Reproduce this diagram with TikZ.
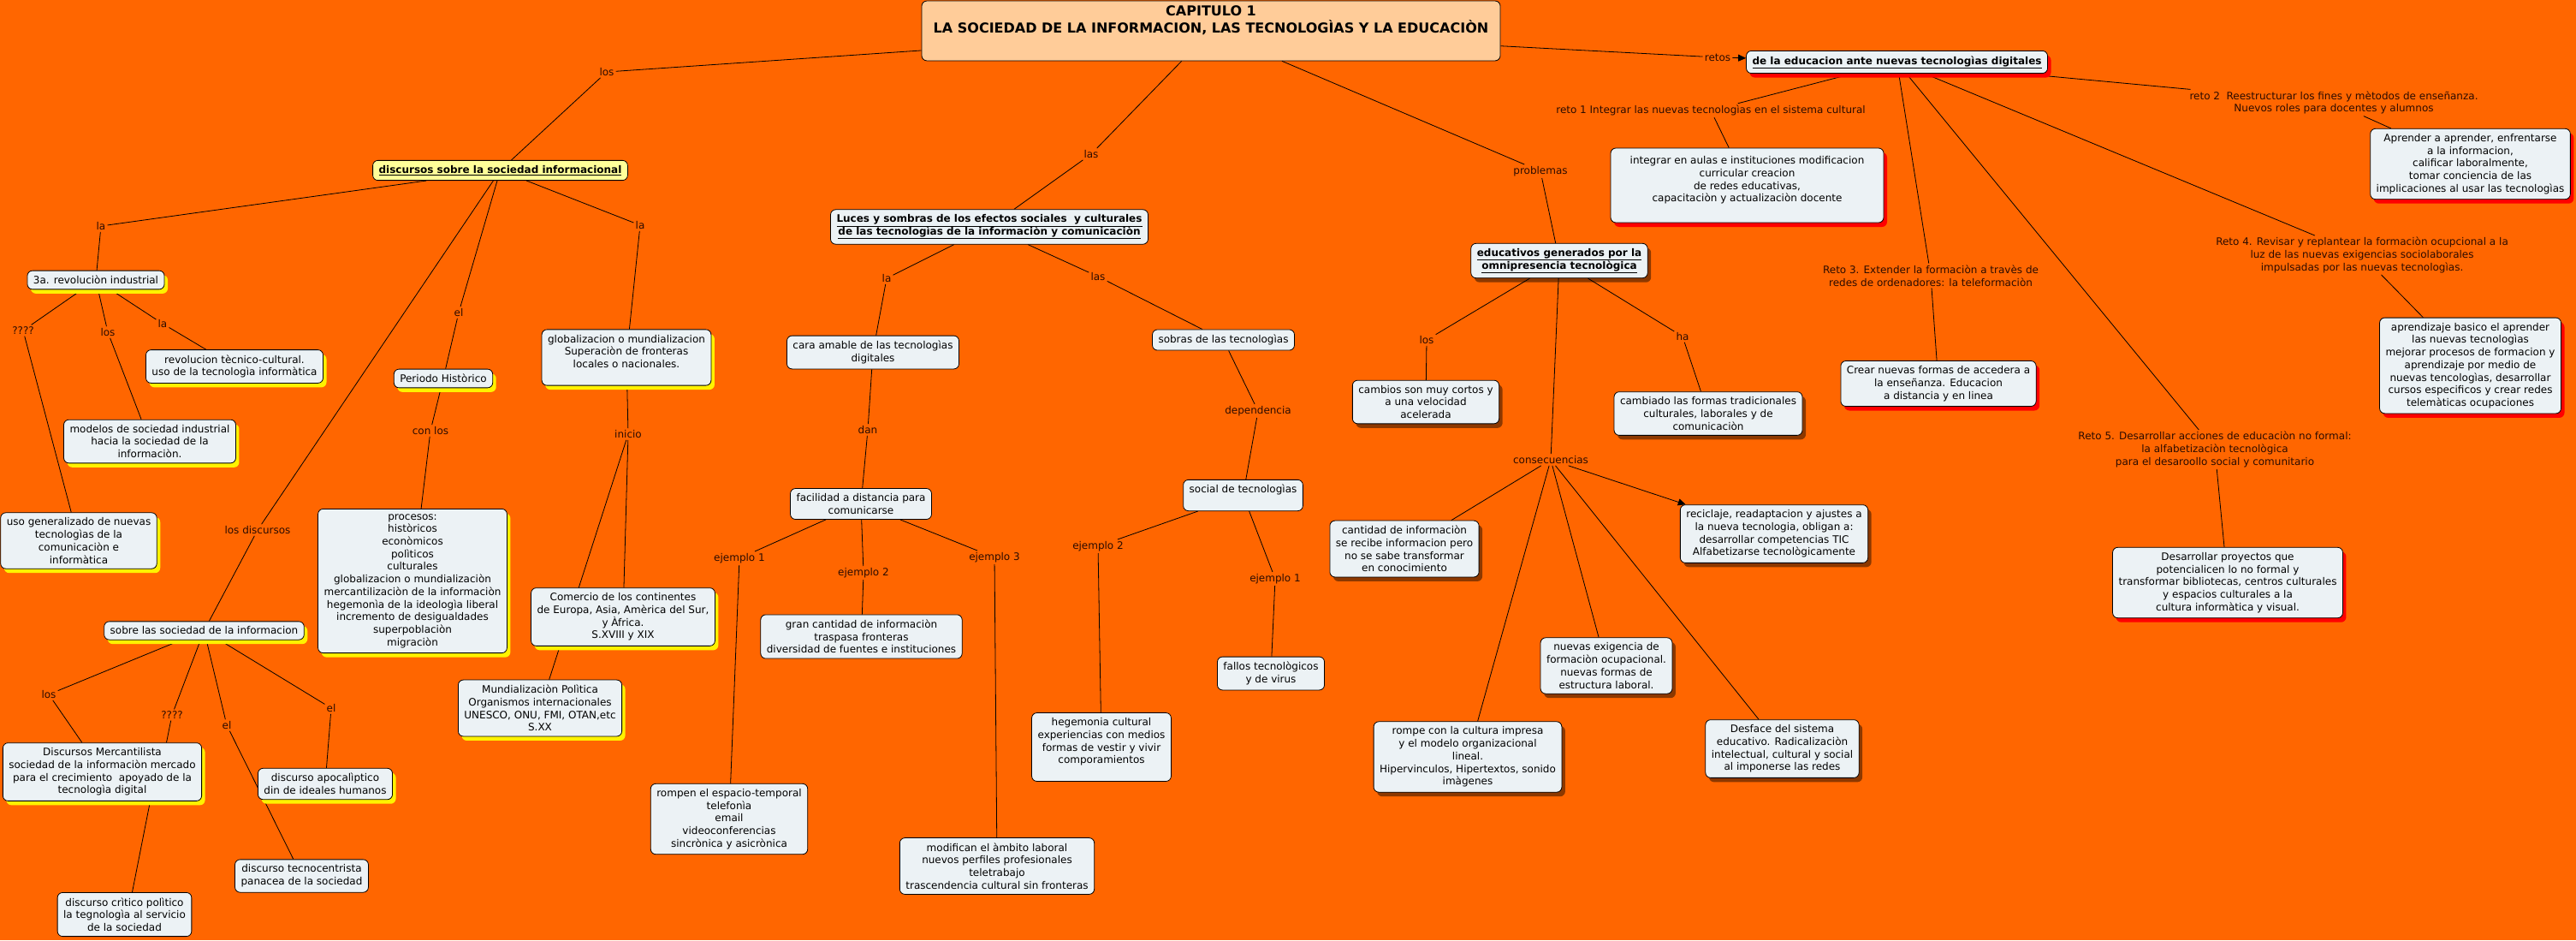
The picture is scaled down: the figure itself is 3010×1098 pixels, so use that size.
\documentclass[tikz,border=0pt]{standalone}
\usepackage{fontspec}
\setmainfont{DejaVu Sans}
\usetikzlibrary{arrows.meta, shadows, backgrounds}
\definecolor{bgorange}{HTML}{FF6600}
\definecolor{conceptfill}{HTML}{ECF2F5}
\definecolor{titlefill}{HTML}{FFCC99}
\definecolor{headfill}{HTML}{FFFF99}
\definecolor{lblcol}{HTML}{2B0B00}

\begin{document}
\begin{tikzpicture}[x=1pt, y=-1pt,
  font=\fontsize{12}{14.7}\selectfont,
  concept/.style={draw, line width=0.8pt, fill=conceptfill, rounded corners=6pt,
    align=center, inner xsep=7pt, inner ysep=6pt},
  heading/.style={font=\fontsize{12}{14.7}\selectfont\bfseries},
  yshad/.style={concept, drop shadow={shadow xshift=4pt, shadow yshift=-5pt, fill=yellow, opacity=1}},
  rshad/.style={concept, drop shadow={shadow xshift=4pt, shadow yshift=-5pt, fill=red, opacity=1}},
  dshad/.style={concept, drop shadow={shadow xshift=4pt, shadow yshift=-5pt, fill=black, opacity=0.45}},
  lbl/.style={text=lblcol, align=center, inner sep=2pt},
  conn/.style={line width=0.8pt},
  arr/.style={conn, -{Triangle[length=9pt, width=8pt]}},
]
\useasboundingbox (0,0) rectangle (3010,1098);

%% Titulo
\node[concept, fill=titlefill, font=\fontsize{16}{20}\selectfont\bfseries, minimum width=676pt]
  (titulo) at (1415, 36)
  {CAPITULO 1\\LA SOCIEDAD DE LA INFORMACION, LAS TECNOLOGÌAS Y LA EDUCACIÒN\\ \strut};

%% Discursos (izquierda)
\node[concept, heading, fill=headfill] (discursos) at (584.5, 199)
  {\underline{discursos sobre la sociedad informacional}};
\node[yshad] (revInd) at (112, 327) {3a. revoluciòn industrial};
\node[yshad] (revTec) at (274, 428) {revolucion tècnico-cultural.\\uso de la tecnologìa informàtica};
\node[yshad] (modInd) at (175, 515.5) {modelos de sociedad industrial\\hacia la sociedad de la\\informaciòn.};
\node[yshad] (usoGen) at (92, 631.5) {uso generalizado de nuevas\\tecnologìas de la\\comunicaciòn e\\informàtica};
\node[yshad] (perHist) at (518, 442) {Periodo Històrico};
\node[yshad] (procesos) at (482, 678.5)
  {procesos:\\històricos\\econòmicos\\polìticos\\culturales\\globalizacion o mundializaciòn\\mercantilizaciòn de la informaciòn\\hegemonìa de la ideologìa liberal\\incremento de desigualdades\\superpoblaciòn\\migraciòn};
\node[yshad] (globMund) at (732, 417.5) {globalizacion o mundializacion\\Superaciòn de fronteras\\locales o nacionales.\\ \mbox{}};
\node[yshad] (comercio) at (728, 720.5) {Comercio de los continentes\\de Europa, Asia, Amèrica del Sur,\\y Àfrica.\\S.XVIII y XIX};
\node[yshad] (mundPol) at (631, 827) {Mundializaciòn Polìtica\\Organismos internacionales\\UNESCO, ONU, FMI, OTAN,etc\\S.XX};
\node[yshad] (sobreSoc) at (238.5, 736.5) {sobre las sociedad de la informacion};
\node[yshad] (discMerc) at (119.5, 901.5) {Discursos Mercantilista\\sociedad de la informaciòn mercado\\para el crecimiento~ apoyado de la\\tecnologìa digital};
\node[concept] (discCrit) at (145.5, 1068) {discurso crìtico polìtico\\la tegnologìa al servicio\\de la sociedad};
\node[yshad] (discApoc) at (380, 915.5) {discurso apocalìptico\\din de ideales humanos};
\node[concept] (discTecno) at (352.5, 1023) {discurso tecnocentrista\\panacea de la sociedad};

\node[lbl] (lLos1) at (709, 84) {los};
\node[lbl] (lLa1) at (118, 264) {la};
\node[lbl] (lEl1) at (536, 365) {el};
\node[lbl] (lLa2) at (748, 263) {la};
\node[lbl] (lDisc) at (301, 619) {los discursos};
\node[lbl] (lQ1) at (27, 386) {????};
\node[lbl] (lLos2) at (126, 388) {los};
\node[lbl] (lLa3) at (190, 378) {la};
\node[lbl] (lCon) at (503, 503) {con los};
\node[lbl] (lIni) at (734, 507) {inicio};
\node[lbl] (lLos3) at (57, 811) {los};
\node[lbl] (lQ2) at (201, 835) {????};
\node[lbl] (lEl2) at (265, 847) {el};
\node[lbl] (lEl3) at (387, 827) {el};

%% Luces y sombras (centro)
\node[concept, heading] (luces) at (1156, 265)
  {\underline{Luces y sombras de los efectos sociales~ y culturales}\\\underline{de las tecnologìas de la informaciòn y comunicaciòn}};
\node[concept] (caraAm) at (1020, 411.5) {cara amable de las tecnologìas\\digitales};
\node[concept] (facil) at (1006, 588.5) {facilidad a distancia para\\comunicarse};
\node[concept] (granCant) at (1006.5, 743.5) {gran cantidad de informaciòn\\traspasa fronteras\\diversidad de fuentes e instituciones};
\node[concept] (rompen) at (852, 956.5) {rompen el espacio-temporal\\telefonìa\\email\\videoconferencias\\sincrònica y asicrònica};
\node[concept] (modifican) at (1165, 1011.5) {modifican el àmbito laboral\\nuevos perfiles profesionales\\teletrabajo\\trascendencia cultural sin fronteras};
\node[concept] (sobras) at (1429.5, 397) {sobras de las tecnologìas};
\node[concept] (socialTec) at (1452.5, 578.5) {social de tecnologìas\\ \mbox{}};
\node[concept] (hegem) at (1287, 872.5) {hegemonia cultural\\experiencias con medios\\formas de vestir y vivir\\comporamientos\\ \mbox{}};
\node[concept] (fallos) at (1485, 786.5) {fallos tecnològicos\\y de virus};

\node[lbl] (lLas1) at (1275, 180) {las};
\node[lbl] (lLa4) at (1036, 325) {la};
\node[lbl] (lLas2) at (1283, 323) {las};
\node[lbl] (lDan) at (1014, 502) {dan};
\node[lbl] (lEj1) at (864, 652) {ejemplo 1};
\node[lbl] (lEj2) at (1009, 669) {ejemplo 2};
\node[lbl] (lEj3) at (1162, 651) {ejemplo 3};
\node[lbl] (lDep) at (1470, 480) {dependencia};
\node[lbl] (lEj4) at (1283, 638) {ejemplo 2};
\node[lbl] (lEj5) at (1490, 676) {ejemplo 1};

%% Problemas educativos
\node[dshad, heading] (educGen) at (1822, 304.5)
  {\underline{educativos generados por la}\\\underline{omnipresencia tecnològica}};
\node[dshad] (cambios) at (1666, 469.5) {cambios son muy cortos y\\a una velocidad\\acelerada};
\node[dshad] (cambiado) at (1996, 483) {cambiado las formas tradicionales\\culturales, laborales y de\\comunicaciòn};
\node[dshad] (cantInfo) at (1641, 641) {cantidad de informaciòn\\se recibe informacion pero\\no se sabe transformar\\en conocimiento};
\node[dshad] (reciclaje) at (2073, 623.5) {reciclaje, readaptacion y ajustes a\\la nueva tecnologia, obligan a:\\desarrollar competencias TIC\\Alfabetizarse tecnològicamente};
\node[dshad] (rompeCult) at (1715, 884) {rompe con la cultura impresa\\y el modelo organizacional\\lineal.\\Hipervinculos, Hipertextos, sonido\\imàgenes};
\node[dshad] (nuevasExig) at (1877, 777.5) {nuevas exigencia de\\formaciòn ocupacional.\\nuevas formas de\\estructura laboral.};
\node[dshad] (desface) at (2082.5, 874.5) {Desface del sistema\\educativo. Radicalizaciòn\\intelectual, cultural y social\\al imponerse las redes};

\node[lbl] (lProb) at (1800, 200) {problemas};
\node[lbl] (lLos4) at (1667, 397) {los};
\node[lbl] (lHa) at (1966, 393) {ha};
\node[lbl] (lCons) at (1812, 537) {consecuencias};

%% Retos (derecha)
\node[rshad, heading] (educRetos) at (2216.5, 72.5)
  {\underline{de la educacion ante nuevas tecnologìas digitales}};
\node[rshad, minimum width=319pt, minimum height=87pt] (integrar) at (2041.5, 216.5) {integrar en aulas e instituciones modificacion\\curricular creacion\\de redes educativas,\\capacitaciòn y actualizaciòn docente\\ \mbox{}};
\node[rshad] (aprender) at (2886.5, 191.5) {Aprender a aprender, enfrentarse\\a la informacion,\\calificar laboralmente,\\tomar conciencia de las\\implicaciones al usar las tecnologìas};
\node[rshad] (crear) at (2265, 448) {Crear nuevas formas de accedera a\\la enseñanza. Educacion\\a distancia y en linea};
\node[rshad] (aprendBas) at (2886.5, 427) {aprendizaje basico el aprender\\las nuevas tecnologìas\\mejorar procesos de formacion y\\aprendizaje por medio de\\nuevas tencologìas, desarrollar\\cursos especificos y crear redes\\telemàticas ocupaciones};
\node[rshad] (desarrProy) at (2603, 680.5) {Desarrollar proyectos que\\potencialicen lo no formal y\\transformar bibliotecas, centros culturales\\y espacios culturales a la\\cultura informàtica y visual.};

\node[lbl] (lRetos) at (2007, 67) {retos};
\node[lbl] (lReto1) at (1999, 129) {reto 1 Integrar las nuevas tecnologìas en el sistema cultural};
\node[lbl] (lReto2) at (2727, 120) {reto 2~ Reestructurar los fines y mètodos de enseñanza.\\Nuevos roles para docentes y alumnos};
\node[lbl] (lReto3) at (2256, 322) {Reto 3. Extender la formaciòn a travès de\\redes de ordenadores: la teleformaciòn};
\node[lbl] (lReto4) at (2760, 298) {Reto 4. Revisar y replantear la formaciòn ocupcional a la\\luz de las nuevas exigencias sociolaborales\\impulsadas por las nuevas tecnologìas.};
\node[lbl] (lReto5) at (2588, 525) {Reto 5. Desarrollar acciones de educaciòn no formal:\\la alfabetizaciòn tecnològica\\para el desaroollo social y comunitario};

%% conexiones (detras de los conceptos)
\begin{scope}[on background layer]
\fill[bgorange] (0,0) rectangle (3010,1098);
\foreach \a/\b in {titulo/lLos1, lLos1/discursos,
    discursos/lLa1, lLa1/revInd, discursos/lEl1, lEl1/perHist,
    discursos/lLa2, lLa2/globMund, discursos/lDisc, lDisc/sobreSoc,
    revInd/lQ1, lQ1/usoGen, revInd/lLos2, lLos2/modInd, revInd/lLa3, lLa3/revTec,
    perHist/lCon, lCon/procesos, globMund/lIni, lIni/comercio, lIni/mundPol,
    sobreSoc/lLos3, lLos3/discMerc, sobreSoc/lQ2, sobreSoc/lEl2, lEl2/discTecno,
    sobreSoc/lEl3, lEl3/discApoc,
    titulo/lLas1, lLas1/luces, luces/lLa4, lLa4/caraAm, luces/lLas2, lLas2/sobras,
    caraAm/lDan, lDan/facil, facil/lEj1, lEj1/rompen, facil/lEj2, lEj2/granCant,
    facil/lEj3, lEj3/modifican, sobras/lDep, lDep/socialTec,
    socialTec/lEj4, lEj4/hegem, socialTec/lEj5, lEj5/fallos,
    titulo/lProb, lProb/educGen, educGen/lLos4, lLos4/cambios, educGen/lHa, lHa/cambiado,
    educGen/lCons, lCons/cantInfo, lCons/rompeCult, lCons/nuevasExig, lCons/desface,
    titulo/lRetos, educRetos/lReto1, lReto1/integrar, educRetos/lReto2, lReto2/aprender,
    educRetos/lReto3, lReto3/crear, educRetos/lReto4, lReto4/aprendBas,
    educRetos/lReto5, lReto5/desarrProy} {
  \draw[conn] (\a) -- (\b);
}
\draw[conn] (lQ2) -- ([xshift=75pt]discMerc.north);
\draw[conn] ([xshift=56pt]discMerc.south) -- ([xshift=9pt]discCrit.north);
\draw[arr] (lRetos) -- (educRetos);
\draw[arr] (lCons) -- (reciclaje);
\end{scope}

\end{tikzpicture}
\end{document}
